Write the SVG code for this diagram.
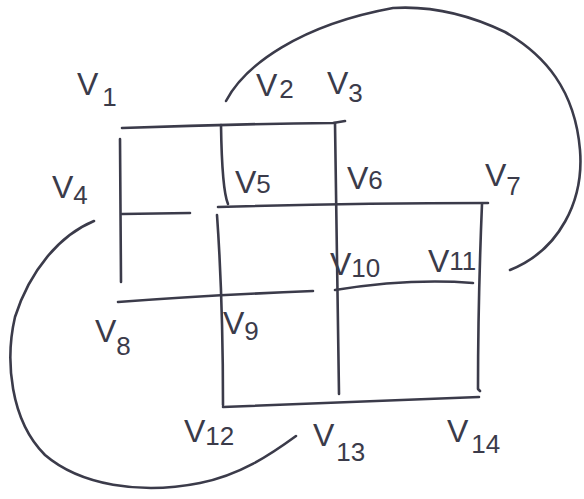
<svg xmlns="http://www.w3.org/2000/svg" width="584" height="499" viewBox="0 0 584 499">
<style>
.e{fill:none;stroke:#3b3b4a;stroke-width:2.6;stroke-linecap:round;stroke-linejoin:round}
.l{font-family:"Liberation Sans",Arial,sans-serif;font-size:32px;fill:#3b3b4a}
.n{font-size:26px}
</style>
<rect width="584" height="499" fill="#fff"/>
<g id="connectors">
<path class="e" d="M122,128 Q230,124 333,123 L345,121"/>
<path class="e" d="M120,139 L121,282"/>
<path class="e" d="M221,125 Q222,190 228,204"/>
<path class="e" d="M122,214 L190,213"/>
<path class="e" d="M218,207 Q350,203 488,203"/>
<path class="e" d="M217,215 Q223,300 223,405"/>
<path class="e" d="M335,123 Q337,260 339,394"/>
<path class="e" d="M482,204 Q478,300 478,389 L480,391"/>
<path class="e" d="M223,407 Q350,402 479,397"/>
<path class="e" d="M118,302 Q210,295 313,291"/>
<path class="e" d="M335,290 Q410,278 473,283"/>
<path class="e" d="M226,101 C245,65 300,25 393,8 C440,5 480,20 505,32 C545,55 575,90 580,150 C584,200 560,250 510,270"/>
<path class="e" d="M94,221 C60,235 30,270 15,317 C5,360 10,420 45,455 C80,485 140,495 200,483 C240,475 270,455 296,436"/>
</g>
<g id="v1"><text class="l" x="77" y="95">V<tspan class="n" dx="4" dy="11">1</tspan></text></g>
<g id="v2"><text class="l" x="256" y="96">V<tspan class="n" dx="2" dy="2">2</tspan></text></g>
<g id="v3"><text class="l" x="327" y="94">V<tspan class="n" dx="0" dy="8">3</tspan></text></g>
<g id="v4"><text class="l" x="52" y="198">V<tspan class="n" dx="0" dy="6">4</tspan></text></g>
<g id="v5"><text class="l" x="235" y="193">V<tspan class="n" dx="0" dy="0">5</tspan></text></g>
<g id="v6"><text class="l" x="347" y="189">V<tspan class="n" dx="0" dy="0">6</tspan></text></g>
<g id="v7"><text class="l" x="485" y="186">V<tspan class="n" dx="0" dy="9">7</tspan></text></g>
<g id="v8"><text class="l" x="95" y="342">V<tspan class="n" dx="0" dy="13">8</tspan></text></g>
<g id="v9"><text class="l" x="223" y="334">V<tspan class="n" dx="0" dy="6">9</tspan></text></g>
<g id="v10"><text class="l" x="330" y="275">V<tspan class="n" dx="0" dy="2">10</tspan></text></g>
<g id="v11"><text class="l" x="428" y="272">V<tspan class="n" dx="0" dy="-2">11</tspan></text></g>
<g id="v12"><text class="l" x="184" y="442">V<tspan class="n" dx="0" dy="3">12</tspan></text></g>
<g id="v13"><text class="l" x="313" y="446">V<tspan class="n" dx="2" dy="15">13</tspan></text></g>
<g id="v14"><text class="l" x="447" y="442">V<tspan class="n" dx="3" dy="11">14</tspan></text></g>
</svg>
